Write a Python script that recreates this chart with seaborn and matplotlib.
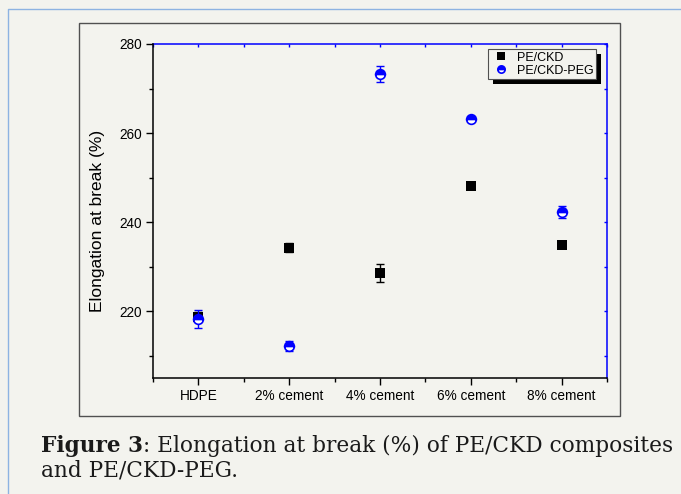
# -*- coding: utf-8 -*-

import matplotlib
matplotlib.use('Agg')
import matplotlib.pyplot as plt
import matplotlib.patches as mpatches
from matplotlib.lines import Line2D
from matplotlib.transforms import IdentityTransform
from matplotlib.ticker import FixedLocator, NullFormatter
import seaborn as sns
import numpy as np
import pandas as pd

################################################################################

categories = ['HDPE', '2% cement', '4% cement', '6% cement', '8% cement']
pe_ckd = [218.8, 234.3, 228.6, 248.2, 234.8]
pe_ckd_err = [1.0, 1.0, 2.0, 0.7, 0.3]
pe_ckd_peg = [218.3, 212.2, 273.2, 263.1, 242.3]
pe_ckd_peg_err = [2.0, 1.1, 1.8, 0.5, 1.3]

caption_bold = 'Figure 3'
caption_line1 = ': Elongation at break (%) of PE/CKD composites'
caption_line2 = 'and PE/CKD-PEG.'

BG = '#f3f3ee'
W, H = 681, 494

################################################################################

sns.set_style('ticks')
plt.rcParams['font.family'] = ['Liberation Sans', 'DejaVu Sans']
plt.rcParams['text.color'] = 'black'
plt.rcParams['axes.labelcolor'] = 'black'
plt.rcParams['xtick.color'] = 'black'
plt.rcParams['ytick.color'] = 'black'

df = pd.DataFrame({'pos': np.arange(len(categories)), 'category': categories,
                   'PE/CKD': pe_ckd, 'PE/CKD-PEG': pe_ckd_peg})

fig = plt.figure(figsize=(W / 100, H / 100), dpi=100, facecolor=BG)
ax = fig.add_axes([153 / W, 1 - 378 / H, (607 - 153) / W, (378 - 44) / H])
ax.set_facecolor(BG)

# frames of the page around the chart
fig.add_artist(Line2D([8 / W, 8 / W, 1], [0, 1 - 9 / H, 1 - 9 / H], transform=fig.transFigure,
                      color='#8db3e2', linewidth=1))
fig.add_artist(mpatches.Rectangle((79 / W, 1 - 416 / H), (620 - 79) / W, (416 - 23) / H,
                                  transform=fig.transFigure, fill=False, edgecolor='#505050', linewidth=1))

# PE/CKD
ax.errorbar(df['pos'], df['PE/CKD'], yerr=pe_ckd_err, fmt='none', ecolor='black',
            elinewidth=1, capsize=3, capthick=1, zorder=2)
sns.lineplot(x='pos', y='PE/CKD', data=df, ax=ax, color='black', marker='s', linestyle='',
             markersize=7, markeredgewidth=0, errorbar=None, label='PE/CKD', zorder=3)

# PE/CKD-PEG
ax.errorbar(df['pos'], df['PE/CKD-PEG'], yerr=pe_ckd_peg_err, fmt='none', ecolor='blue',
            elinewidth=1, capsize=3, capthick=1, zorder=4)
sns.lineplot(x='pos', y='PE/CKD-PEG', data=df, ax=ax, color='blue', marker='o', linestyle='',
             markersize=7, fillstyle='top', markerfacecolor='blue', markerfacecoloralt='white',
             markeredgecolor='blue', markeredgewidth=1.2, errorbar=None, label='PE/CKD-PEG', zorder=5)

ax.set_xlim(-0.5, 4.5)
ax.set_ylim(205, 280)
ax.set_xticks(df['pos'])
ax.set_xticklabels(categories)
ax.xaxis.set_minor_locator(FixedLocator(np.arange(-0.5, 4.6, 1.0)))
ax.set_yticks([220, 240, 260, 280])
ax.yaxis.set_minor_locator(FixedLocator([210, 230, 250, 270]))
ax.set_xlabel('')
ax.set_ylabel('Elongation at break (%)', fontsize=12.5)
ax.yaxis.set_label_coords(-0.105, 0.47)

ax.tick_params(which='major', direction='out', length=5, width=1, color='black',
               labelsize=9.8, labelcolor='black', pad=3, top=False, right=False)
ax.tick_params(which='minor', direction='out', length=3, width=1, color='black',
               top=False, right=False)
for side in ['left', 'bottom']:
    ax.spines[side].set_color('black')
    ax.spines[side].set_linewidth(1.1)
for side in ['top', 'right']:
    ax.spines[side].set_visible(False)

top = ax.secondary_xaxis('top')
top.set_xticks(np.arange(-0.5, 4.6, 0.5))
top.xaxis.set_major_formatter(NullFormatter())
top.tick_params(direction='in', length=2.5, width=1, color='blue')
top.spines['top'].set_color('blue')
top.spines['top'].set_linewidth(1.1)

right = ax.secondary_yaxis('right')
right.set_yticks(np.arange(210, 281, 10))
right.yaxis.set_major_formatter(NullFormatter())
right.tick_params(direction='in', length=2.5, width=1, color='blue')
right.spines['right'].set_color('blue')
right.spines['right'].set_linewidth(1.1)

leg = ax.legend(loc='upper right', bbox_to_anchor=(0.976, 0.985), borderaxespad=0,
                fontsize=9, frameon=True, fancybox=False, framealpha=1, facecolor=BG,
                edgecolor='#505050', handlelength=1.6, handletextpad=0.5, borderpad=0.2,
                labelspacing=0.1, markerscale=0.75)
leg.get_frame().set_linewidth(0.8)
leg.set_zorder(10)
for t in leg.get_texts():
    t.set_color('black')

# caption, bold part then regular part, scaled to the box width
renderer = fig.canvas.get_renderer()
fs = 12
t0 = fig.text(0, 0, caption_bold, fontsize=fs, fontweight='bold', family='DejaVu Serif')
t1 = fig.text(0, 0, caption_line1, fontsize=fs, family='DejaVu Serif')
w = t0.get_window_extent(renderer).width + t1.get_window_extent(renderer).width
t0.remove()
t1.remove()
fs = fs * (670 - 41) / w

tb = fig.text(41 / W, 1 - 452 / H, caption_bold, fontsize=fs, fontweight='bold',
              family='DejaVu Serif', va='baseline', color='#1a1a1a')
wb = tb.get_window_extent(renderer).width
fig.text((41 + wb) / W, 1 - 452 / H, caption_line1, fontsize=fs, family='DejaVu Serif',
         va='baseline', color='#1a1a1a')
fig.text(41 / W, 1 - 476 / H, caption_line2, fontsize=fs, family='DejaVu Serif',
         va='baseline', color='#1a1a1a')

# legend shadow
fig.canvas.draw()
bb = leg.get_window_extent(renderer)
ax.add_patch(mpatches.Rectangle((bb.x0 + 5, bb.y0 - 5), bb.width, bb.height, transform=IdentityTransform(),
                                facecolor='black', edgecolor='none', zorder=9, clip_on=False))

fig.savefig('out.png', dpi=100, facecolor=BG)
